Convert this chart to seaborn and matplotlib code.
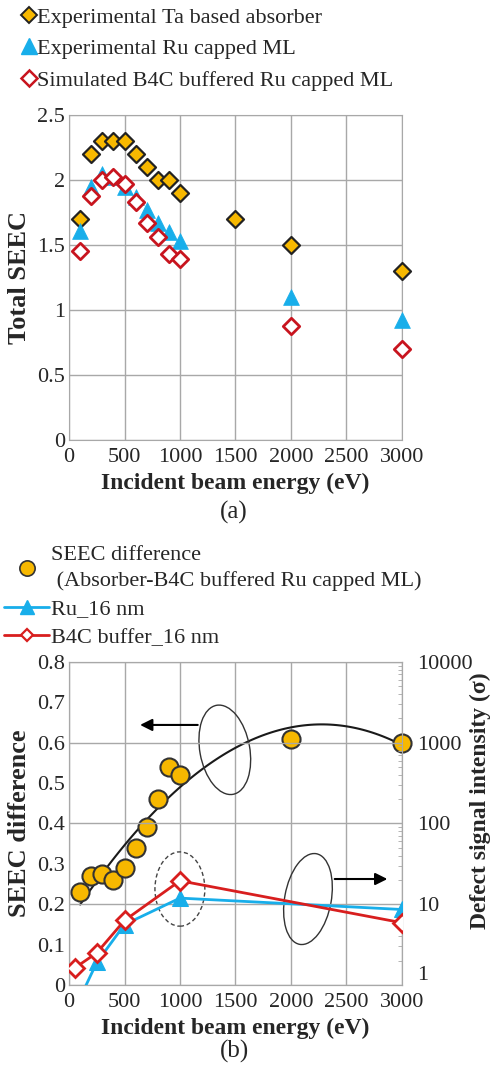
import numpy as np
import pandas as pd
import seaborn as sns
import matplotlib.pyplot as plt
from matplotlib.patches import Ellipse
from matplotlib.lines import Line2D

# ---- data (a) total SEEC ----
energy_a = [100, 200, 300, 400, 500, 600, 700, 800, 900, 1000, 1500, 2000, 3000]
ta_absorber = [1.7, 2.2, 2.3, 2.3, 2.3, 2.2, 2.1, 2.0, 2.0, 1.9, 1.7, 1.5, 1.3]
energy_ru = [100, 200, 300, 400, 500, 600, 700, 800, 900, 1000, 2000, 3000]
ru_capped = [1.61, 1.95, 2.05, 2.02, 1.95, 1.87, 1.77, 1.67, 1.6, 1.53, 1.1, 0.92]
energy_b4c = [100, 200, 300, 400, 500, 600, 700, 800, 900, 1000, 2000, 3000]
b4c_sim = [1.45, 1.88, 2.0, 2.02, 1.97, 1.83, 1.67, 1.56, 1.43, 1.39, 0.88, 0.7]

# ---- data (b) ----
energy_diff = [100, 200, 300, 400, 500, 600, 700, 800, 900, 1000, 2000, 3000]
seec_diff = [0.23, 0.27, 0.275, 0.26, 0.29, 0.34, 0.39, 0.46, 0.54, 0.52, 0.61, 0.60]
energy_sig = [50, 250, 500, 1000, 3000]
ru_16 = [0.5, 1.9, 5.6, 11.9, 8.6]
b4c_16 = [1.62, 2.5, 6.3, 19.5, 5.9]

sns.set_style("white")
plt.rcParams['font.family'] = ['Liberation Serif', 'DejaVu Serif']

gold = "#F7B800"
blue = "#18AEEA"
red = "#C8141E"
red2 = "#D81E1E"
grid_c = "#A8A8A8"

fig = plt.figure(figsize=(4.9, 10.72), dpi=100)
ax1 = fig.add_axes([0.141, 0.5896, 0.679, 0.3031])
ax2 = fig.add_axes([0.141, 0.0812, 0.679, 0.3013])

# ---------- (a) ----------
df_ta = pd.DataFrame({"x": energy_a, "y": ta_absorber})
df_ru = pd.DataFrame({"x": energy_ru, "y": ru_capped})
df_b4 = pd.DataFrame({"x": energy_b4c, "y": b4c_sim})
sns.scatterplot(data=df_ta, x="x", y="y", ax=ax1, marker="D", s=75, color=gold,
                edgecolor="#222222", linewidth=1.6, zorder=3, clip_on=False)
sns.scatterplot(data=df_ru, x="x", y="y", ax=ax1, marker="^", s=130, color=blue,
                edgecolor=blue, linewidth=0.5, zorder=4, clip_on=False)
sns.scatterplot(data=df_b4, x="x", y="y", ax=ax1, marker="D", s=70, facecolor="white",
                edgecolor=red, linewidth=2.0, zorder=5, clip_on=False)
ax1.set_xlim(0, 3000)
ax1.set_ylim(0, 2.5)
ax1.set_xticks(range(0, 3001, 500))
ax1.set_yticks([0, 0.5, 1, 1.5, 2, 2.5])
ax1.set_yticklabels(["0", "0.5", "1", "1.5", "2", "2.5"])
ax1.grid(True, color=grid_c, linewidth=1.0)
ax1.set_axisbelow(True)
for sp in ax1.spines.values():
    sp.set_color(grid_c)
ax1.tick_params(labelsize=16, length=0, pad=3)
ax1.tick_params(axis="x", pad=6)
ax1.set_xlabel("Incident beam energy (eV)", fontsize=17, fontweight="bold", labelpad=4)
ax1.set_ylabel("Total SEEC", fontsize=19, fontweight="bold", labelpad=4)

h_a = [Line2D([], [], ls="none", marker="D", ms=8, mfc=gold, mec="#222222", mew=1.4),
       Line2D([], [], ls="none", marker="^", ms=11, mfc=blue, mec=blue),
       Line2D([], [], ls="none", marker="D", ms=8, mfc="white", mec=red, mew=1.8)]
fig.legend(h_a, ["Experimental Ta based absorber", "Experimental Ru capped ML",
                 "Simulated B4C buffered Ru capped ML"],
           loc="upper left", bbox_to_anchor=(0.013, 1.008), frameon=False, fontsize=16,
           handlelength=0.6, handletextpad=0.1, labelspacing=0.5, borderaxespad=0.3)

fig.text(0.478, 0.522, "(a)", fontsize=18, ha="center", va="center")

# ---------- (b) ----------
df_d = pd.DataFrame({"x": energy_diff, "y": seec_diff})
sns.regplot(data=df_d, x="x", y="y", ax=ax2, order=3, ci=None, scatter=False,
            line_kws={"color": "#1a1a1a", "lw": 1.5, "zorder": 3})
sns.scatterplot(data=df_d, x="x", y="y", ax=ax2, marker="o", s=170, color=gold,
                edgecolor="#333333", linewidth=1.5, zorder=4, clip_on=False)
ax2.set_xlim(0, 3000)
ax2.set_ylim(0, 0.8)
ax2.set_xticks(range(0, 3001, 500))
ax2.set_yticks(np.arange(0, 0.81, 0.1))
ax2.set_yticklabels(["0", "0.1", "0.2", "0.3", "0.4", "0.5", "0.6", "0.7", "0.8"])
ax2.grid(True, axis="x", color=grid_c, linewidth=1.0)
ax2.set_axisbelow(True)
for sp in ax2.spines.values():
    sp.set_color(grid_c)
ax2.tick_params(labelsize=16, length=0, pad=3)
ax2.tick_params(axis="x", pad=6)
ax2.set_xlabel("Incident beam energy (eV)", fontsize=17, fontweight="bold", labelpad=4)
ax2.set_ylabel("SEEC difference", fontsize=19, fontweight="bold", labelpad=4)

ax3 = ax2.twinx()
df_r = pd.DataFrame({"x": energy_sig, "y": ru_16})
df_c = pd.DataFrame({"x": energy_sig, "y": b4c_16})
sns.lineplot(data=df_r, x="x", y="y", ax=ax3, color=blue, lw=2, marker="^", ms=12,
             mec=blue, zorder=3)
sns.lineplot(data=df_c, x="x", y="y", ax=ax3, color=red2, lw=2, marker="D", ms=9,
             mfc="white", mec=red2, mew=2, zorder=4)
ax3.set_yscale("log")
ax3.set_ylim(1, 10000)
ax3.set_xlim(0, 3000)
ax3.set_yticks([1, 10, 100, 1000, 10000])
ax3.set_yticklabels(["1", "10", "100", "1000", "10000"])
ax3.get_yticklabels()[0].set_va("bottom")
ax3.grid(True, axis="y", which="major", color=grid_c, linewidth=1.0)
ax3.tick_params(axis="y", which="major", labelsize=16, length=0, pad=11)
ax3.tick_params(axis="y", which="minor", length=3, direction="in", color=grid_c)
for sp in ax3.spines.values():
    sp.set_color(grid_c)
ax3.set_ylabel("Defect signal intensity (σ)", fontsize=17, fontweight="bold")
ax3.yaxis.set_label_coords(1.203, 0.57)
ax3.set_xlabel("")

# annotations (axes-fraction coordinates)
tr = ax2.transAxes
ax2.add_patch(Ellipse((0.333, 0.297), 0.15, 0.23, transform=tr, fill=False,
                      ls=(0, (3, 2)), ec="#444444", lw=1.0, zorder=5))
ax2.add_patch(Ellipse((0.468, 0.728), 0.15, 0.28, angle=10, transform=tr, fill=False,
                      ec="#333333", lw=1.0, zorder=5))
ax2.annotate("", xy=(0.205, 0.805), xytext=(0.395, 0.805), xycoords=tr, textcoords=tr,
             arrowprops=dict(arrowstyle="-|>", color="black", lw=1.5, mutation_scale=18))
ax2.add_patch(Ellipse((0.718, 0.266), 0.14, 0.285, angle=-10, transform=tr, fill=False,
                      ec="#333333", lw=1.0, zorder=5))
ax2.annotate("", xy=(0.965, 0.328), xytext=(0.79, 0.328), xycoords=tr, textcoords=tr,
             arrowprops=dict(arrowstyle="-|>", color="black", lw=1.5, mutation_scale=18))

h_b = [Line2D([], [], ls="none", marker="o", ms=11, mfc=gold, mec="#333333", mew=1.2),
       Line2D([], [], color=blue, lw=2, marker="^", ms=10, mec=blue),
       Line2D([], [], color=red2, lw=2, marker="D", ms=6, mfc="white", mec=red2, mew=1.6)]
leg_b = fig.legend(h_b, ["SEEC difference\n (Absorber-B4C buffered Ru capped ML)", "Ru_16 nm",
                         "B4C buffer_16 nm"],
                   loc="upper left", bbox_to_anchor=(-0.023, 0.505), frameon=False, fontsize=16,
                   handlelength=2.0, handletextpad=0.1, labelspacing=0.35, borderaxespad=0.3)
for t in leg_b.get_texts():
    t.set_linespacing(1.4)

fig.text(0.478, 0.0196, "(b)", fontsize=18, ha="center", va="center")

fig.savefig("out.png", dpi=100)
